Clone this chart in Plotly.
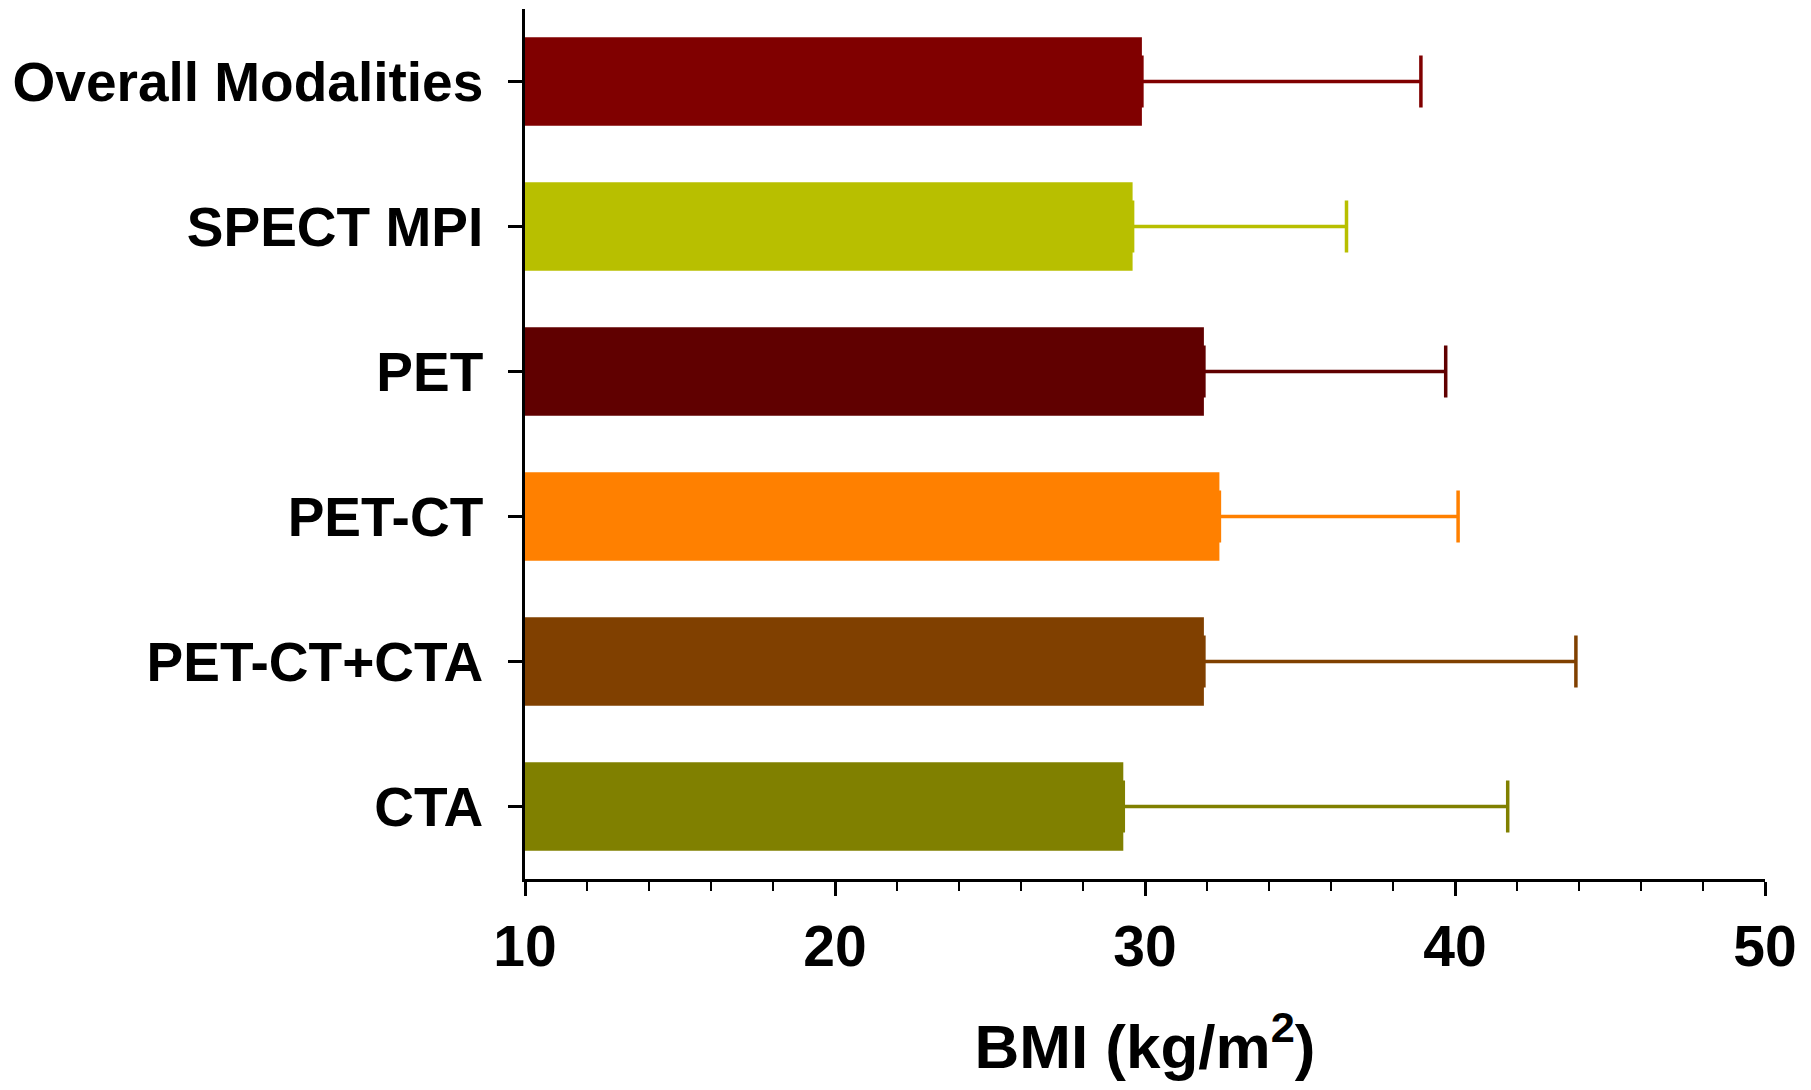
import plotly.graph_objects as go

# Mean BMI and SD by imaging modality
modalities = ["Overall Modalities", "SPECT MPI", "PET", "PET-CT", "PET-CT+CTA", "CTA"]
bmi_mean = [29.9, 29.6, 31.9, 32.4, 31.9, 29.3]
bmi_sd = [9.0, 6.9, 7.8, 7.7, 12.0, 12.4]
bar_colors = ["#800000", "#B8BF00", "#600000", "#FF8000", "#804000", "#808000"]
x_ticks = [10, 20, 30, 40, 50]

FONT = "Liberation Sans, Arial, sans-serif"

fig = go.Figure()
for name, m, sd, c in zip(modalities, bmi_mean, bmi_sd, bar_colors):
    fig.add_trace(go.Bar(
        y=[name], x=[m], orientation="h",
        marker=dict(color=c, line=dict(width=0)),
        error_x=dict(type="data", symmetric=False, array=[sd], arrayminus=[0],
                     color=c, thickness=3.5, width=26),
        showlegend=False,
    ))

fig.update_layout(
    width=1811, height=1090,
    margin=dict(l=525, r=46, t=9, b=211, autoexpand=False),
    paper_bgcolor="white", plot_bgcolor="white",
    barmode="overlay", bargap=0.39,
    font=dict(family=FONT, color="black", weight="bold"),
)

fig.update_xaxes(
    range=[10, 50], tickvals=x_ticks, ticktext=[str(v) for v in x_ticks],
    showline=True, linecolor="black", linewidth=2.5,
    ticks="outside", ticklen=14, tickwidth=2.5, tickcolor="black",
    minor=dict(dtick=2, ticks="outside", ticklen=9, tickwidth=1.5, tickcolor="black"),
    showgrid=False, zeroline=False, automargin=False,
    tickfont=dict(size=57, family=FONT, weight="bold"),
    ticklabelstandoff=2,
    title=dict(text="BMI (kg/m<sup>2</sup>)", font=dict(size=62, family=FONT, weight="bold"),
               standoff=48),
)

fig.update_yaxes(
    type="category", categoryorder="array", categoryarray=modalities,
    range=[5.5, -0.5],
    showline=True, linecolor="black", linewidth=2.5,
    ticks="outside", ticklen=14, tickwidth=2.5, tickcolor="black",
    showgrid=False, zeroline=False, automargin=False,
    tickfont=dict(size=55, family=FONT, weight="bold"),
    ticklabelstandoff=14,
)

fig.write_html("out.html")
